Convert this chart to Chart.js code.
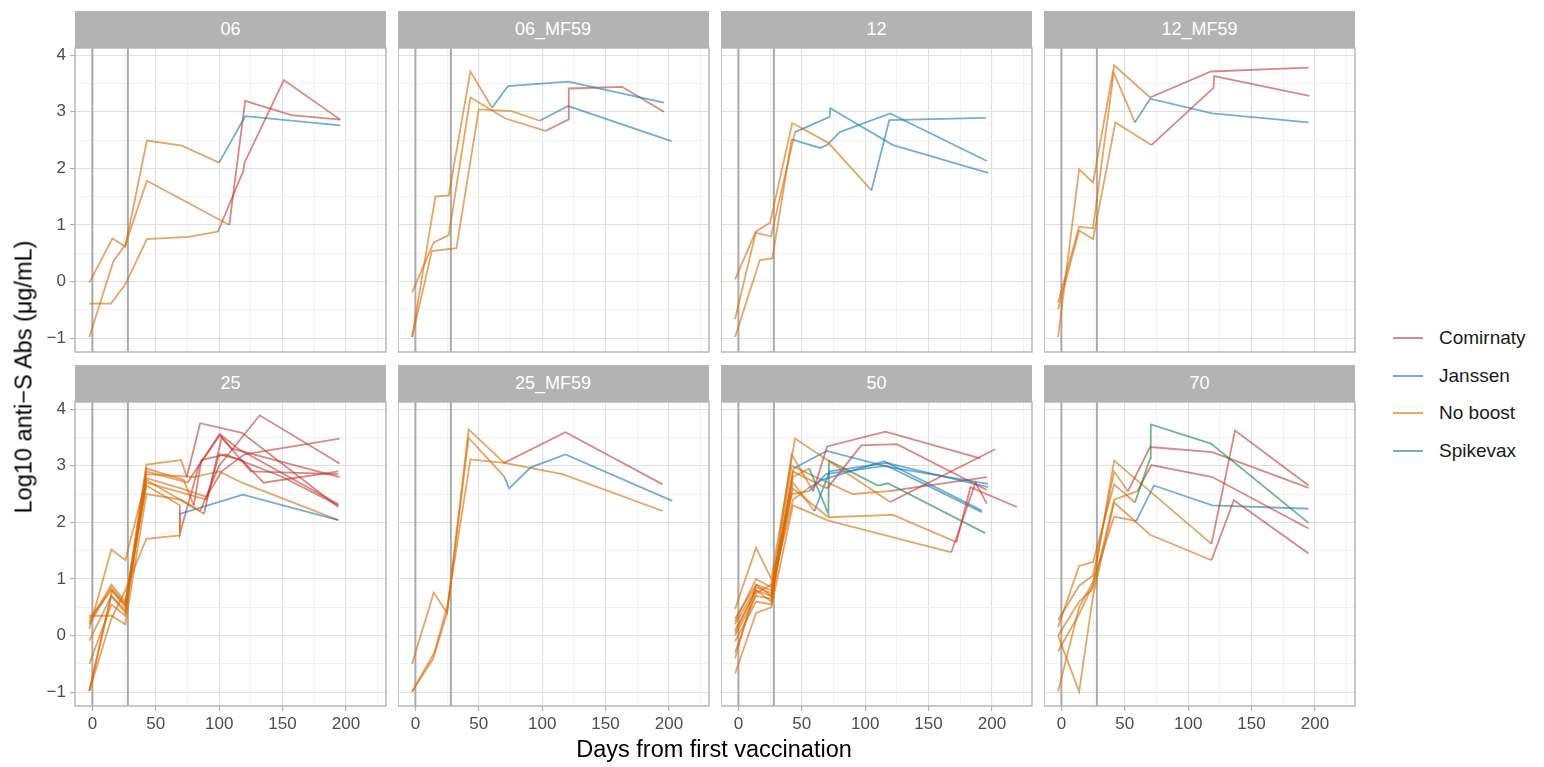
<!DOCTYPE html>
<html>
<head>
<meta charset="utf-8">
<script src="https://cdn.jsdelivr.net/npm/chart.js@4.4.0/dist/chart.umd.min.js"></script>
<style>
body{margin:0;background:#fff;width:1544px;height:767px;position:relative;overflow:hidden;font-family:"Liberation Sans",Arial,sans-serif}
canvas{position:absolute}
.strip{position:absolute;background:#b3b3b3;color:#fff;font-size:18px;display:flex;align-items:center;justify-content:center}
.title{position:absolute;color:#000;font-size:23.5px;white-space:nowrap}
.key{position:absolute;font-size:19px;color:#1a1a1a;white-space:nowrap;display:flex;align-items:center}
.key span{display:inline-block;width:30px;height:2px;margin-right:16px}
</style>
</head>
<body>
<script>
// facets and boost groups
const panels = ["06","06_MF59","12","12_MF59","25","25_MF59","50","70"];
const groups = ["Comirnaty","Janssen","No boost","Spikevax"];
const groupColors = ["rgba(195,55,50,0.6)","rgba(20,120,185,0.6)","rgba(215,105,0,0.6)","rgba(20,130,75,0.6)"];
const vaccDays = [0, 28];
const xTicks = [0,25,50,75,100,125,150,175,200,225];
const yTicks = [-1,-0.5,0,0.5,1,1.5,2,2.5,3,3.5,4];
const xRange = [-13.7, 231.6];
const yRange = [-1.244, 4.125];

// each subject: [boost group, first boosted segment, days, log10 titre]
const p06 = [
  ["Janssen",5,[-2.4,15.8,26,43,70.5,100,120.5,195.5],[-0.02,0.76,0.62,2.49,2.4,2.1,2.92,2.76]],
  ["Comirnaty",4,[-2.4,16.6,26,43,108,120.5,157,195.5],[-0.98,0.36,0.65,1.78,1.0,3.19,2.94,2.86]],
  ["Comirnaty",5,[-2.4,14.7,26,43,76,99,119,120,151,195.5],[-0.39,-0.39,-0.05,0.75,0.79,0.88,1.95,2.1,3.56,2.86]]
];
const p06mf = [
  ["Janssen",4,[-2.6,15.8,26.3,43.4,60.5,73,120.5,196],[-0.98,1.5,1.52,3.71,3.07,3.45,3.53,3.16]],
  ["Comirnaty",5,[-2.6,14.5,26.3,43.4,71,102.6,120.5,121,163,196],[-0.19,0.69,0.82,3.25,2.88,2.66,2.86,3.41,3.44,3.0]],
  ["Janssen",5,[-2.6,13,32.4,50,76,98,120.5,202],[-0.98,0.54,0.59,3.04,3.01,2.84,3.1,2.48]]
];
const p12 = [
  ["Janssen",5,[-2.6,13.7,25,42.5,71,105,119,195],[0.04,0.88,1.04,2.8,2.45,1.61,2.85,2.89]],
  ["Janssen",3,[-2.6,13.7,25.8,44.7,72,72.5,122,197],[-0.66,0.86,0.8,2.64,2.91,3.06,2.41,1.92]],
  ["Janssen",3,[-2.6,17,26.8,42,64.5,70,80,119.7,196],[-0.98,0.38,0.41,2.51,2.36,2.41,2.64,2.97,2.13]]
];
const p12mf = [
  ["Comirnaty",4,[-2.6,14,25,41.6,70,118,195],[-0.98,1.98,1.75,3.82,3.25,3.71,3.78]],
  ["Janssen",4,[-2.6,14,25,41.3,58,70,119,195],[-0.37,0.97,0.94,3.69,2.81,3.23,2.97,2.81]],
  ["Comirnaty",4,[-2.6,14,25,42.6,71,120,120.5,195.5],[-0.49,0.9,0.75,2.81,2.41,3.42,3.63,3.28]]
];
const p25 = [
  ["Comirnaty",5,[-2.4,15.5,26,42.6,70,74.5,85,118,194],[-0.98,0.8,0.55,3.02,3.1,2.8,3.75,3.58,2.27]],
  ["Comirnaty",4,[-2.4,15,26,42.6,75,100,110,195],[-0.5,0.55,0.35,2.9,2.7,3.55,3.3,2.8]],
  ["Comirnaty",5,[-2.4,15,26,42.6,70,85,100,132,195],[0.35,0.35,0.2,2.5,2.4,2.2,3.0,3.89,3.04]],
  ["Comirnaty",5,[-2.4,15,26,42.6,70,90,102,120,195],[0.12,1.52,1.33,2.78,2.6,2.45,2.9,3.2,3.48]],
  ["Janssen",5,[-2.4,15,26,42.6,69,69,118.7,194],[-0.98,0.3,0.8,1.71,1.77,2.15,2.49,2.04]],
  ["Comirnaty",4,[-2.4,15,26,42.6,69,69,84,101,115,194],[0.24,0.9,0.6,2.65,2.3,1.8,3.0,3.55,3.3,2.32]],
  ["No boost",99,[-2.4,15,26,42.6,80,100,118,194],[-0.09,0.7,0.45,2.85,2.8,2.9,2.7,2.04]],
  ["Comirnaty",4,[-2.4,15,26,42.6,90,100,118,135,194],[0.3,0.8,0.5,2.7,2.4,3.2,3.1,2.7,2.9]],
  ["Comirnaty",4,[-2.4,15,26,42.6,88,102,125,194],[-0.98,0.7,0.4,2.75,2.15,3.5,2.9,2.85]],
  ["Comirnaty",5,[-2.4,15,26,42.6,72,80,86,105,150,194],[0.2,0.85,0.55,2.95,2.75,2.3,3.1,3.2,2.8,2.3]]
];
const p25mf = [
  ["Comirnaty",4,[-2.6,14.5,25,42,70,118.4,195],[-0.5,0.76,0.4,3.64,3.05,3.59,2.67]],
  ["Janssen",4,[-2.6,14,25,42,70,74,91,118.4,202.6],[-0.99,-0.41,0.4,3.49,2.81,2.6,2.97,3.2,2.38]],
  ["No boost",99,[-2.6,15,25.5,43.4,70,116,195],[-0.99,-0.3,0.55,3.11,3.05,2.85,2.2]]
];
const p50 = [
  ["Comirnaty",4,[-2.6,14,26,44.7,119.7,202.6],[0.47,1.55,1.0,3.48,2.36,3.29]],
  ["Comirnaty",4,[-2.6,14,26,42,59,70,116,190.8],[0.2,0.85,0.75,3.2,2.55,3.34,3.6,3.13]],
  ["Comirnaty",4,[-2.6,14,26,43,70,97,125,196],[-0.1,0.6,0.55,2.9,2.6,3.36,3.38,2.57]],
  ["Comirnaty",6,[-2.6,14,26,43,71,122,172,183,219.7],[0.3,0.9,0.7,2.6,2.09,2.13,1.65,2.62,2.27]],
  ["Comirnaty",5,[-2.6,14,26,43,71,168,187,196],[-0.67,0.4,0.5,2.3,2.03,1.47,2.7,2.33]],
  ["Janssen",3,[-2.6,14,26,43.4,69.7,118,197],[0.1,0.8,0.6,2.95,3.26,2.98,2.68]],
  ["Janssen",4,[-2.6,14,26,42,56,69,117,192],[-0.3,0.75,0.9,2.5,2.55,2.85,3.0,2.18]],
  ["Janssen",4,[-2.6,14,26,43,60,72,117,197],[0.0,0.7,0.65,2.7,2.2,2.9,3.05,2.62]],
  ["Janssen",4,[-2.6,14,26,43,55,66,115,192],[-0.4,0.9,0.8,2.4,2.6,2.75,3.08,2.21]],
  ["Spikevax",4,[-2.6,14,26,43,56,71,71.5,110,118,194.7],[0.25,1.0,0.85,2.8,2.95,2.15,3.09,2.65,2.69,1.81]],
  ["Comirnaty",5,[-2.6,14,26,42,90,119,196],[0.05,0.8,0.7,3.0,2.5,2.55,2.8]]
];
const p70 = [
  ["Spikevax",4,[-2.6,14,25,41.6,58,70,70.5,118,195],[0.15,1.23,1.3,2.67,2.35,3.13,3.73,3.39,1.99]],
  ["Comirnaty",4,[-2.6,14,25,41.6,52.6,70,119,195],[0.27,0.88,1.06,2.9,2.55,3.33,3.24,2.61]],
  ["Comirnaty",4,[-2.6,14,25,41.6,60,71,119,195],[0.0,0.6,0.83,2.4,2.55,3.01,2.8,1.89]],
  ["Comirnaty",4,[-2.6,14,25,41.6,118.4,137,195],[-0.28,0.38,0.9,3.09,1.62,3.62,2.65]],
  ["Comirnaty",5,[-2.6,14,25,41.6,70,118.4,136,195],[0.0,-0.99,0.7,2.35,1.78,1.33,2.39,1.45]],
  ["Janssen",4,[-2.6,14,25,41.6,59,73,119,195],[-0.99,0.5,0.95,2.1,2.02,2.65,2.3,2.24]]
];
const panelData = [p06,p06mf,p12,p12mf,p25,p25mf,p50,p70];

// page layout
const colLeft = [75,397.5,721,1044];
const rowTop = [48,402];
const plotW = 311, plotH = 304, stripH = 37;
const font = '"Liberation Sans", Arial, sans-serif';

function colorOf(g){ return groupColors[groups.indexOf(g)]; }

const panelDecor = {
  id:"panelDecor",
  beforeDatasetsDraw(chart){
    const {ctx, chartArea:a, scales:{x}} = chart;
    ctx.save();
    ctx.strokeStyle = "#ababab";
    ctx.lineWidth = 2;
    vaccDays.forEach(d => {
      const px = x.getPixelForValue(d);
      ctx.beginPath(); ctx.moveTo(px,a.top); ctx.lineTo(px,a.bottom); ctx.stroke();
    });
    ctx.restore();
  },
  afterDraw(chart){
    const {ctx, chartArea:a} = chart;
    ctx.save();
    ctx.strokeStyle = "#b3b3b3";
    ctx.lineWidth = 1.4;
    ctx.strokeRect(a.left, a.top, a.right-a.left, a.bottom-a.top);
    ctx.restore();
  }
};

// no label overflow padding, so every panel keeps the same plot box
function noPad(s){ s.paddingTop = 0; s.paddingBottom = 0; s.paddingLeft = 0; s.paddingRight = 0; }

panels.forEach((name,i) => {
  const col = i % 4, row = Math.floor(i/4);
  const yW = col === 0 ? 50 : 0;
  const xH = row === 1 ? 34 : 0;
  const padTop = 12, padRight = 10, padBottom = row === 0 ? 12 : 0;

  const strip = document.createElement("div");
  strip.className = "strip";
  strip.textContent = name;
  strip.style.left = colLeft[col]+"px";
  strip.style.top = (rowTop[row]-stripH)+"px";
  strip.style.width = plotW+"px";
  strip.style.height = stripH+"px";
  document.body.appendChild(strip);

  const cv = document.createElement("canvas");
  cv.width = yW+plotW+padRight;
  cv.height = padTop+plotH+xH+padBottom;
  cv.style.left = (colLeft[col]-yW)+"px";
  cv.style.top = (rowTop[row]-padTop)+"px";
  document.body.appendChild(cv);

  const nb = colorOf("No boost");
  const datasets = panelData[i].map(s => {
    const c = colorOf(s[0]), k = s[1];
    return {
      data: s[2].map((d,j) => ({x:d, y:s[3][j]})),
      borderColor: k === 0 ? c : nb,
      segment: {borderColor: ctx => ctx.p0DataIndex >= k ? c : nb},
      borderWidth: 1.8, pointRadius: 0, tension: 0, fill: false
    };
  });

  new Chart(cv, {
    type: "line",
    data: {datasets},
    plugins: [panelDecor],
    options: {
      responsive: false, animation: false, events: [],
      layout: {padding: {top: padTop, right: padRight, left: 0, bottom: padBottom}},
      plugins: {legend: {display: false}, tooltip: {enabled: false}},
      scales: {
        x: {
          type: "linear", min: xRange[0], max: xRange[1],
          afterBuildTicks: s => { s.ticks = xTicks.map(v => ({value: v})); },
          afterFit: s => { s.height = xH; noPad(s); },
          border: {display: false},
          grid: {
            color: c => c.tick && c.tick.value % 50 === 0 ? "#e0e0e0" : "#efefef",
            lineWidth: c => c.tick && c.tick.value % 50 === 0 ? 1.1 : 0.9,
            drawTicks: row === 1, tickLength: 5, tickWidth: 1.2,
            tickColor: c => c.tick && c.tick.value % 50 === 0 ? "#b3b3b3" : "rgba(0,0,0,0)"
          },
          ticks: {
            display: row === 1, autoSkip: false, maxRotation: 0, padding: 3,
            color: "#4d4d4d", font: {family: font, size: 17},
            callback: v => v % 50 === 0 ? String(v) : ""
          }
        },
        y: {
          type: "linear", min: yRange[0], max: yRange[1],
          afterBuildTicks: s => { s.ticks = yTicks.map(v => ({value: v})); },
          afterFit: s => { s.width = yW; noPad(s); },
          border: {display: false},
          grid: {
            color: c => c.tick && Number.isInteger(c.tick.value) ? "#e0e0e0" : "#efefef",
            lineWidth: c => c.tick && Number.isInteger(c.tick.value) ? 1.1 : 0.9,
            drawTicks: col === 0, tickLength: 5, tickWidth: 1.2,
            tickColor: c => c.tick && Number.isInteger(c.tick.value) ? "#b3b3b3" : "rgba(0,0,0,0)"
          },
          ticks: {
            display: col === 0, autoSkip: false, padding: 4,
            color: "#4d4d4d", font: {family: font, size: 17},
            callback: v => Number.isInteger(v) ? (v < 0 ? "\u2212" + (-v) : String(v)) : ""
          }
        }
      }
    }
  });
});

// axis titles
const xt = document.createElement("div");
xt.className = "title";
xt.textContent = "Days from first vaccination";
xt.style.left = "714px"; xt.style.top = "749px";
xt.style.transform = "translate(-50%,-50%)";
document.body.appendChild(xt);

const yt = document.createElement("div");
yt.className = "title";
yt.textContent = "Log10 anti\u2212S Abs (\u03bcg/mL)";
yt.style.left = "24px"; yt.style.top = "377px";
yt.style.transform = "translate(-50%,-50%) rotate(-90deg)";
document.body.appendChild(yt);

// legend
groups.forEach((g,i) => {
  const k = document.createElement("div");
  k.className = "key";
  k.style.left = "1393px";
  k.style.top = (338 + i*37.6 - 11)+"px";
  k.style.height = "22px";
  const sw = document.createElement("span");
  sw.style.background = groupColors[i];
  k.appendChild(sw);
  k.appendChild(document.createTextNode(g));
  document.body.appendChild(k);
});
</script>
</body>
</html>
